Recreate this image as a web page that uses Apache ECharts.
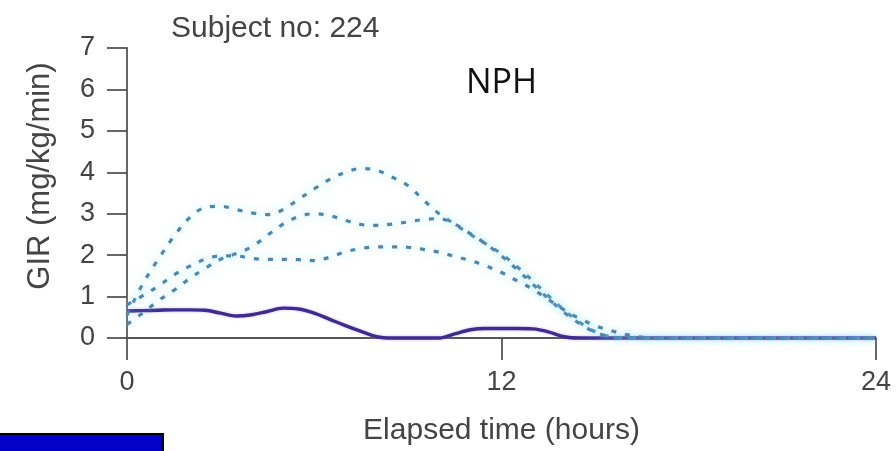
<!DOCTYPE html>
<html>
<head>
<meta charset="utf-8">
<title>GIR profile</title>
<script src="https://cdn.jsdelivr.net/npm/echarts@6/dist/echarts.min.js"></script>
<style>
  html, body { margin: 0; padding: 0; background: #ffffff; }
  #chart { width: 896px; height: 451px; }
</style>
</head>
<body>
<div id="chart"></div>
<script>
// Elapsed time grid (hours) shared by every profile
const hours = [
  0, 0.5, 1, 1.5, 2, 2.5, 3, 3.5, 4, 4.5, 5, 5.5, 6, 6.5, 7, 7.5, 8, 8.5,
  9, 9.5, 10, 10.5, 11, 11.5, 12, 12.5, 13, 13.5, 14, 14.5, 15, 15.5, 16,
  16.5, 17, 17.5, 18, 19, 20, 21, 22, 23, 24
];

// Solid profile (GIR, mg/kg/min)
const girSolid = [
  0.65, 0.66, 0.67, 0.68, 0.68, 0.67, 0.60, 0.53, 0.56, 0.64, 0.72, 0.70,
  0.60, 0.45, 0.30, 0.16, 0.03, 0.00, 0.00, 0.00, 0.00, 0.10, 0.20, 0.23,
  0.23, 0.23, 0.22, 0.15, 0.03, 0.00, 0.00, 0.00, 0.00, 0.00, 0.00, 0.00,
  0.00, 0.00, 0.00, 0.00, 0.00, 0.00, 0.00
];

// Dashed profiles (GIR, mg/kg/min)
const girDashedA = [
  0.55, 1.30, 1.90, 2.45, 2.90, 3.15, 3.18, 3.10, 3.02, 2.98, 3.10, 3.35,
  3.60, 3.83, 4.00, 4.09, 4.05, 3.88, 3.68, 3.33, 3.00, 2.75, 2.50, 2.27,
  2.03, 1.72, 1.38, 1.02, 0.68, 0.38, 0.15, 0.03, 0.00, 0.00, 0.00, 0.00,
  0.00, 0.00, 0.00, 0.00, 0.00, 0.00, 0.00
];
const girDashedB = [
  0.33, 0.60, 0.90, 1.15, 1.43, 1.68, 1.90, 2.04, 2.20, 2.48, 2.75, 2.93,
  3.00, 2.95, 2.84, 2.74, 2.72, 2.75, 2.80, 2.86, 2.88, 2.75, 2.52, 2.27,
  1.98, 1.65, 1.30, 0.95, 0.62, 0.35, 0.14, 0.03, 0.00, 0.00, 0.00, 0.00,
  0.00, 0.00, 0.00, 0.00, 0.00, 0.00, 0.00
];
const girDashedC = [
  0.80, 1.02, 1.25, 1.52, 1.73, 1.90, 1.98, 1.98, 1.92, 1.90, 1.90, 1.89,
  1.87, 1.95, 2.08, 2.16, 2.20, 2.20, 2.19, 2.14, 2.07, 1.97, 1.87, 1.74,
  1.58, 1.38, 1.18, 0.93, 0.68, 0.47, 0.30, 0.18, 0.08, 0.02, 0.00, 0.00,
  0.00, 0.00, 0.00, 0.00, 0.00, 0.00, 0.00
];

const yTicks = [0, 1, 2, 3, 4, 5, 6, 7];
const xTicks = [0, 12, 24];

const pairs = vals => hours.map((h, i) => [h, vals[i]]);

const axisGray = '#555555';
const textGray = '#444444';
const font = 'Liberation Sans';

const dashedStyle = {
  color: '#4e86ad',
  width: 3.2,
  type: [5, 9],
  shadowColor: 'rgba(140,225,255,1)',
  shadowBlur: 9
};

function dashedSeries(name, vals) {
  return {
    name: name,
    type: 'line',
    data: pairs(vals),
    smooth: 0.35,
    symbol: 'none',
    clip: false,
    z: 4,
    lineStyle: dashedStyle
  };
}

const chart = echarts.init(document.getElementById('chart'), null, { renderer: 'canvas' });

chart.setOption({
  animation: false,
  backgroundColor: '#ffffff',
  title: {
    text: 'Subject no: 224',
    left: 166,
    top: 9,
    textStyle: { fontFamily: font, fontSize: 30, fontWeight: 'normal', color: textGray }
  },
  grid: { left: 127, right: 20, top: 48, bottom: 107 },
  xAxis: {
    type: 'value',
    min: 0,
    max: 24,
    interval: 12,
    name: 'Elapsed time (hours)',
    nameLocation: 'middle',
    nameGap: 78,
    nameTextStyle: { fontFamily: font, fontSize: 30, color: textGray },
    axisLine: { show: true, lineStyle: { color: axisGray, width: 1.8 } },
    axisTick: { show: true, length: 22, lineStyle: { color: axisGray, width: 1.8 } },
    axisLabel: {
      margin: 31,
      fontFamily: font,
      fontSize: 27,
      color: textGray,
      formatter: v => (xTicks.indexOf(v) >= 0 ? String(v) : '')
    },
    splitLine: { show: false }
  },
  yAxis: {
    type: 'value',
    min: 0,
    max: 7,
    interval: 1,
    axisLine: { show: true, lineStyle: { color: axisGray, width: 1.8 } },
    axisTick: { show: true, length: 20, lineStyle: { color: axisGray, width: 1.8 } },
    axisLabel: {
      margin: 32,
      fontFamily: font,
      fontSize: 27,
      color: textGray,
      formatter: v => (yTicks.indexOf(v) >= 0 ? String(v) : '')
    },
    splitLine: { show: false }
  },
  graphic: [
    {
      // vertical axis title, set a little above the plot's middle
      type: 'text',
      x: 40,
      y: 176,
      rotation: Math.PI / 2,
      style: {
        text: 'GIR (mg/kg/min)',
        fontFamily: font,
        fontSize: 31,
        fill: textGray,
        align: 'center',
        verticalAlign: 'middle'
      }
    },
    {
      type: 'text',
      left: 466,
      top: 66,
      style: { text: 'NPH', fontFamily: 'Open Sans', fontSize: 34, fill: '#111111' }
    },
    {
      type: 'rect',
      shape: { x: -2, y: 434, width: 165, height: 22 },
      style: { fill: '#0000c8', stroke: '#000000', lineWidth: 2 }
    }
  ],
  series: [
    {
      name: 'Solid',
      type: 'line',
      data: pairs(girSolid),
      smooth: 0.35,
      symbol: 'none',
      clip: false,
      z: 3,
      lineStyle: {
        color: '#3d2c8c',
        width: 3.4,
        shadowColor: 'rgba(170,140,255,0.6)',
        shadowBlur: 3
      }
    },
    dashedSeries('Dashed A', girDashedA),
    dashedSeries('Dashed B', girDashedB),
    dashedSeries('Dashed C', girDashedC)
  ]
});
</script>
</body>
</html>
